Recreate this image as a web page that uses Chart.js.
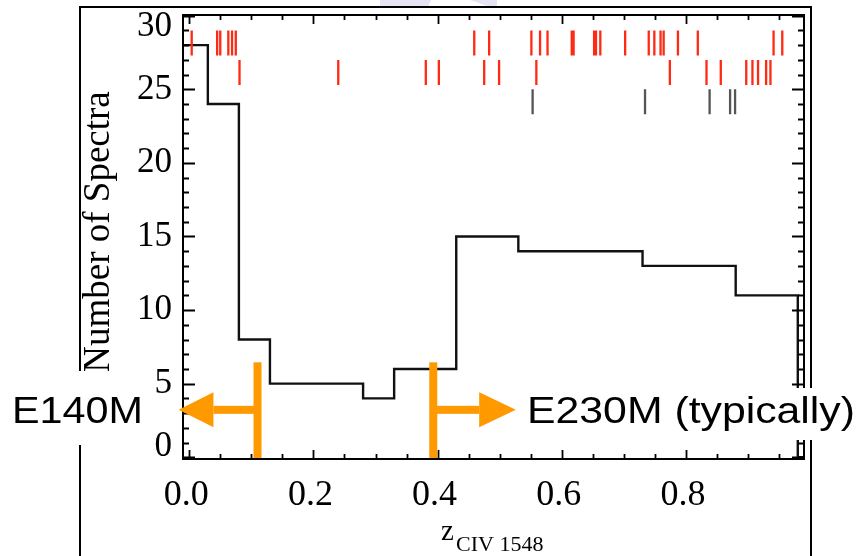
<!DOCTYPE html>
<html lang="en">
<head>
<meta charset="utf-8">
<title>CIV 1548 coverage</title>
<script src="https://cdn.jsdelivr.net/npm/chart.js@4.4.1/dist/chart.umd.min.js"></script>
<style>
    html, body { margin: 0; padding: 0; background: #fff; }
</style>
</head>
<body>
<canvas id="myChart" width="861" height="556"></canvas>
<script>
    // histogram: left bin edges and counts (last edge closes the last bin)
    var binEdges = [-0.02, 0.03, 0.08, 0.13, 0.28, 0.33, 0.43, 0.53, 0.73, 0.88, 0.98];
    var binCounts = [28, 24, 8, 5, 4, 6, 15, 14, 13, 11];

    // tick marks for individual absorbers, three rows
    var redRowTop = [0.004, 0.045, 0.050, 0.063, 0.069, 0.075, 0.459, 0.483, 0.551, 0.565, 0.577,
        0.616, 0.619, 0.652, 0.655, 0.662, 0.702, 0.740, 0.749, 0.759, 0.764, 0.787, 0.819, 0.941, 0.955];
    var redRowMid = [0.081, 0.240, 0.381, 0.402, 0.475, 0.499, 0.559, 0.774, 0.833, 0.856, 0.897,
        0.907, 0.916, 0.929, 0.936];
    var grayRow = [0.553, 0.734, 0.838, 0.871, 0.879];
    var rowTop = [27.3, 29.0];
    var rowMid = [25.3, 27.0];
    var rowLow = [23.3, 25.0];

    var xTickLabels = ['0.0', '0.2', '0.4', '0.6', '0.8'];
    var yTickLabels = ['0', '5', '10', '15', '20', '25', '30'];

    function histPoints() {
        var pts = [];
        for (var i = 0; i < binCounts.length; i++) pts.push({x: binEdges[i], y: binCounts[i]});
        pts.push({x: binEdges[binEdges.length - 1], y: 0});
        pts.push({x: 0.99, y: 0});
        return pts;
    }

    function tickSegments(zs, span) {
        var pts = [];
        zs.forEach(function (z) {
            pts.push({x: z, y: span[1]});
            pts.push({x: z, y: span[0]});
            pts.push({x: z, y: null});
        });
        return pts;
    }

    var ORANGE = '#ff9900';
    var arrows = [
        {bar: 0.11, base: 0.039, tip: -0.017},
        {bar: 0.393, base: 0.467, tip: 0.526}
    ];

    function drawBoxText(ctx, text, left, width, cy, boxTop, boxBottom) {
        ctx.save();
        ctx.font = '36px "Liberation Sans", Arial, sans-serif';
        var w = ctx.measureText(text).width;
        ctx.fillStyle = '#fff';
        ctx.fillRect(left - 4, boxTop, width + 8, boxBottom - boxTop);
        ctx.translate(left, cy);
        ctx.scale(width / w, 1);
        ctx.fillStyle = '#000';
        ctx.textBaseline = 'middle';
        ctx.textAlign = 'left';
        ctx.fillText(text, 0, 0);
        ctx.restore();
    }

    var decor = {
        id: 'decor',
        afterDraw: function (chart) {
            var ctx = chart.ctx, xs = chart.scales.x, ys = chart.scales.y, a = chart.chartArea;
            ctx.save();

            // slide frame and lavender bit
            ctx.fillStyle = '#e4e4f2';
            ctx.beginPath();
            ctx.moveTo(380, 0); ctx.lineTo(431, 0); ctx.lineTo(428, 7); ctx.lineTo(380, 7);
            ctx.fill();
            ctx.beginPath();
            ctx.moveTo(470, 0); ctx.lineTo(497, 0); ctx.lineTo(497, 7); ctx.lineTo(490, 7);
            ctx.fill();
            ctx.strokeStyle = '#000';
            ctx.lineWidth = 2;
            ctx.beginPath();
            ctx.moveTo(80, 556); ctx.lineTo(80, 7); ctx.lineTo(811, 7); ctx.lineTo(811, 556);
            ctx.stroke();

            // plot box
            ctx.strokeRect(a.left, a.top, a.right - a.left, a.bottom - a.top);

            // inward ticks
            ctx.lineWidth = 1.8;
            ctx.beginPath();
            for (var i = 0; i * 0.05 <= 0.99; i++) {
                var px = Math.round(xs.getPixelForValue(i * 0.05)) + 0.5;
                var len = i % 4 === 0 ? 9 : 5;
                ctx.moveTo(px, a.bottom); ctx.lineTo(px, a.bottom - len);
                ctx.moveTo(px, a.top); ctx.lineTo(px, a.top + len);
            }
            for (var v = 0; v <= 30; v++) {
                var py = Math.round(ys.getPixelForValue(v)) + 0.5;
                var ylen = v % 5 === 0 ? 12 : 6;
                ctx.moveTo(a.left, py); ctx.lineTo(a.left + ylen, py);
                ctx.moveTo(a.right, py); ctx.lineTo(a.right - ylen, py);
            }
            ctx.stroke();

            // tick labels
            ctx.fillStyle = '#000';
            ctx.font = '35px "Liberation Serif", "Times New Roman", serif';
            ctx.textAlign = 'right';
            ctx.textBaseline = 'middle';
            yTickLabels.forEach(function (t) {
                var y = ys.getPixelForValue(parseFloat(t));
                y = Math.min(Math.max(y, a.top + 12), a.bottom - 12);
                ctx.fillText(t, 172, y);
            });
            ctx.font = '36px "Liberation Serif", "Times New Roman", serif';
            ctx.textAlign = 'center';
            ctx.textBaseline = 'alphabetic';
            xTickLabels.forEach(function (t) {
                ctx.fillText(t, xs.getPixelForValue(parseFloat(t)) - 3, 505);
            });

            // axis titles
            ctx.textAlign = 'left';
            ctx.font = '29px "Liberation Serif", "Times New Roman", serif';
            ctx.fillText('z', 441, 540);
            ctx.font = '22px "Liberation Serif", "Times New Roman", serif';
            ctx.fillText('CIV 1548', 456, 551);

            ctx.save();
            ctx.translate(109, 232);
            ctx.rotate(-Math.PI / 2);
            ctx.textAlign = 'center';
            ctx.font = '37px "Liberation Serif", "Times New Roman", serif';
            ctx.fillText('Number of Spectra', 0, 0);
            ctx.restore();

            // grating arrows
            ctx.fillStyle = ORANGE;
            var yTop = ys.getPixelForValue(6.45), yBot = ys.getPixelForValue(-0.05);
            var yMid = ys.getPixelForValue(3.22);
            arrows.forEach(function (ar) {
                var bx = xs.getPixelForValue(ar.bar);
                var hb = xs.getPixelForValue(ar.base);
                var tp = xs.getPixelForValue(ar.tip);
                ctx.fillRect(bx - 4, yTop, 8, yBot - yTop);
                ctx.fillRect(Math.min(bx, hb), yMid - 4, Math.abs(hb - bx), 8);
                ctx.beginPath();
                ctx.moveTo(tp, yMid);
                ctx.lineTo(hb, yMid - 17.5);
                ctx.lineTo(hb, yMid + 17.5);
                ctx.closePath();
                ctx.fill();
            });

            drawBoxText(ctx, 'E140M', 12, 131, 413, 371, 445);
            drawBoxText(ctx, 'E230M (typically)', 527, 328, 413, 388, 440);

            ctx.restore();
        }
    };

    var ctx = document.getElementById('myChart').getContext('2d');
    var chart = new Chart(ctx, {
        type: 'line',
        data: {
            datasets: [
                {data: tickSegments(redRowTop, rowTop), borderColor: '#ff2a14', borderWidth: 2.3},
                {data: tickSegments(redRowMid, rowMid), borderColor: '#ff2a14', borderWidth: 2.3},
                {data: tickSegments(grayRow, rowLow), borderColor: '#555555', borderWidth: 2.3},
                {data: histPoints(), borderColor: '#111111', borderWidth: 2.4, stepped: 'before'}
            ]
        },
        options: {
            responsive: false,
            animation: false,
            devicePixelRatio: 1,
            spanGaps: false,
            elements: {point: {radius: 0}, line: {tension: 0, fill: false}},
            layout: {padding: {left: 183, right: 57, top: 15, bottom: 97}},
            scales: {
                x: {type: 'linear', min: -0.01, max: 0.99, display: false},
                y: {type: 'linear', min: -0.12, max: 30.05, display: false}
            },
            plugins: {legend: {display: false}, tooltip: {enabled: false}}
        },
        plugins: [decor]
    });
</script>
</body>
</html>
